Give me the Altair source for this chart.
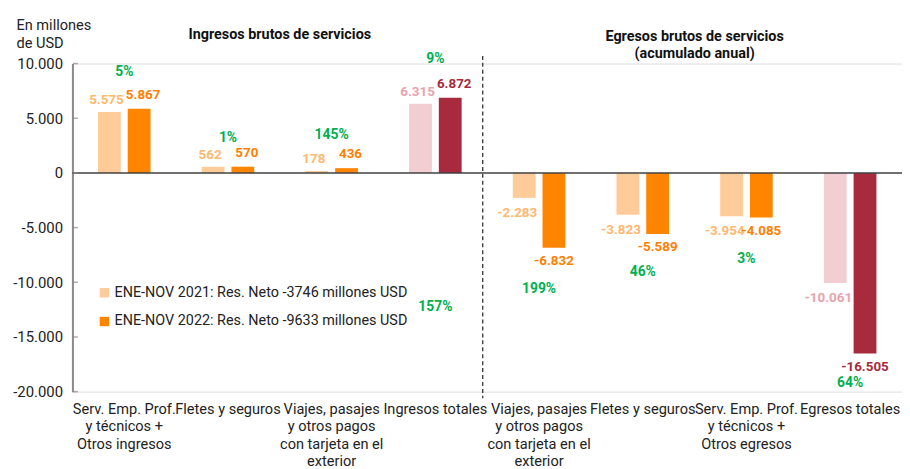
import altair as alt
import pandas as pd

# ---------------- data ----------------
categories = [
    "Serv. Emp. Prof.|y técnicos +|Otros ingresos",
    "Fletes y seguros",
    "Viajes, pasajes|y otros pagos|con tarjeta en el|exterior",
    "Ingresos totales",
    "Viajes, pasajes|y otros pagos|con tarjeta en el|exterior ",
    "Fletes y seguros ",
    "Serv. Emp. Prof.|y técnicos +|Otros egresos",
    "Egresos totales",
]
values_2021 = [5575, 562, 178, 6315, -2283, -3823, -3954, -10061]
values_2022 = [5867, 570, 436, 6872, -6832, -5589, -4085, -16505]
is_total = [False, False, False, True, False, False, False, True]
legend_labels = [
    "ENE-NOV 2021: Res. Neto -3746 millones USD",
    "ENE-NOV 2022: Res. Neto -9633 millones USD",
]
total_series = ["Total 2021", "Total 2022"]
pct_labels = ["5%", "1%", "145%", "9%", "199%", "46%", "3%", "64%", "157%"]
pct_cat_index = [0, 1, 2, 3, 4, 5, 6, 7, 3]
pct_y = [9230, 3170, 3440, 10400, -10600, -9050, -7870, -19200, -12300]
y_ticks = [10000, 5000, 0, -5000, -10000, -15000, -20000]
titles = ["Ingresos brutos de servicios", "Egresos brutos de servicios\n(acumulado anual)"]
title_cat_index = [2, 6]
title_y = [12630, 12450]

# ---------------- tables ----------------
rows = []
for i, c in enumerate(categories):
    for k, (yr, vals) in enumerate([("2021", values_2021), ("2022", values_2022)]):
        v = vals[i]
        serie = total_series[k] if is_total[i] else legend_labels[k]
        rows.append({
            "cat": c, "year": yr, "value": v, "serie": serie,
            "label": f"{v:,}".replace(",", "."),
        })
df = pd.DataFrame(rows)
df_pct = pd.DataFrame({
    "cat": [categories[i] for i in pct_cat_index],
    "y": pct_y,
    "label": pct_labels,
})
df_ticks = pd.DataFrame({"y": y_ticks})
df_titles = pd.DataFrame({
    "cat": [categories[i] for i in title_cat_index],
    "y": title_y,
    "label": titles,
})
df_sep = pd.DataFrame({"cat": [categories[3]], "y": [10700], "y2": [-20600]})

series_domain = legend_labels + total_series
bar_colors = ["#FFCC99", "#FF8500", "#F2CED3", "#A82B3D"]
text_colors = ["#FFB870", "#FF8000", "#E8A3AD", "#A82B3D"]

FONT = "Roboto"
x_scale = alt.Scale(domain=categories, paddingInner=0, paddingOuter=0)
y_scale = alt.Scale(domain=[-20000, 10000], nice=False, zero=False)

X = alt.X(
    "cat:N", scale=x_scale, sort=categories,
    axis=alt.Axis(
        title=None, labelExpr="split(datum.label, '|')", labelAngle=0,
        domain=False, ticks=False, labelPadding=10, labelFontSize=14.7,
        labelColor="#222222", labelLineHeight=17.5, labelOverlap=False,
        labelLimit=300, labelFont=FONT,
    ),
)
Y = alt.Y(
    "value:Q", scale=y_scale,
    axis=alt.Axis(
        values=y_ticks, title=["En millones", "de USD"], titleAngle=0,
        titleAlign="left", titleBaseline="top", titleX=-57, titleY=-46,
        titleFontSize=14.7, titleFontWeight="normal", titleColor="#222222",
        titleFont=FONT, titleLineHeight=18,
        labelFontSize=15, labelColor="#222222", labelPadding=10, labelFont=FONT,
        ticks=False, domainColor="#8a8a8a", domainWidth=2, grid=False,
        labelExpr="replace(replace(format(datum.value, ','), ',', '.'), '\u2212', '-')",
    ),
)
XOFF = alt.XOffset(
    "year:N", scale=alt.Scale(domain=["2021", "2022"], paddingInner=0.233, paddingOuter=0.86)
)

bars = alt.Chart(df).mark_bar().encode(
    x=X, y=Y, xOffset=XOFF,
    color=alt.Color(
        "serie:N",
        scale=alt.Scale(domain=series_domain, range=bar_colors),
        legend=alt.Legend(
            values=legend_labels, title=None, orient="none", legendX=25, legendY=224,
            symbolType="square", symbolSize=90, symbolStrokeWidth=0, labelFontSize=14.5,
            labelFont=FONT, labelColor="#222222", rowPadding=14, labelOffset=3,
            labelLimit=400, padding=0,
        ),
    ),
)

text_color = alt.Color(
    "serie:N", scale=alt.Scale(domain=series_domain, range=text_colors), legend=None
)
LBL = dict(baseline="middle", fontSize=13.5, fontWeight="bold", font=FONT)
YV = alt.Y("value:Q", scale=y_scale)

pos21 = alt.Chart(df).transform_filter("datum.value >= 0 && datum.year == '2021'").mark_text(
    dy=-12, dx=-3, **LBL
).encode(x=X, xOffset=XOFF, y=YV, text="label:N", color=text_color)

pos22 = alt.Chart(df).transform_filter("datum.value >= 0 && datum.year == '2022'").mark_text(
    dy=-14, dx=4, **LBL
).encode(x=X, xOffset=XOFF, y=YV, text="label:N", color=text_color)

neg21 = alt.Chart(df).transform_filter("datum.value < 0 && datum.year == '2021'").mark_text(
    dy=15, dx=-7, **LBL
).encode(x=X, xOffset=XOFF, y=YV, text="label:N", color=text_color)

neg22 = alt.Chart(df).transform_filter("datum.value < 0 && datum.year == '2022'").mark_text(
    dy=13.5, **LBL
).encode(x=X, xOffset=XOFF, y=YV, text="label:N", color=text_color)

pct = alt.Chart(df_pct).mark_text(
    baseline="middle", fontSize=14, fontWeight="bold", font=FONT, color="#00B050"
).encode(x=alt.X("cat:N", scale=x_scale, sort=categories), y=alt.Y("y:Q", scale=y_scale), text="label:N")

zero = alt.Chart(pd.DataFrame({"y": [0]})).mark_rule(color="#404040", strokeWidth=1.5).encode(
    y=alt.Y("y:Q", scale=y_scale)
)

yticks = alt.Chart(df_ticks).mark_tick(color="#8a8a8a", thickness=1.5, size=5, orient="horizontal").encode(
    y=alt.Y("y:Q", scale=y_scale), x=alt.value(3)
)

sep = alt.Chart(df_sep).mark_rule(color="#222222", strokeWidth=1.2, strokeDash=[4, 3]).encode(
    x=alt.X("cat:N", scale=x_scale, sort=categories, bandPosition=0.957),
    y=alt.Y("y:Q", scale=y_scale), y2="y2:Q",
)

title_text = alt.Chart(df_titles).mark_text(
    baseline="middle", fontSize=14.5, fontWeight="bold", font=FONT, color="#111111",
    lineBreak="\n", lineHeight=17.5,
).encode(
    x=alt.X("cat:N", scale=x_scale, sort=categories, bandPosition=0),
    y=alt.Y("y:Q", scale=y_scale), text="label:N",
)

chart = alt.layer(
    bars, zero, yticks, sep, pos21, pos22, neg21, neg22, pct, title_text
).resolve_scale(color="independent").properties(
    width=837, height=331,
    autosize=alt.AutoSizeParams(type="none"),
    padding={"left": 65, "top": 54, "right": 0, "bottom": 76},
).configure_view(stroke=None).configure(font=FONT)

chart.save("out.html", embed_options={"renderer": "svg", "actions": False})
